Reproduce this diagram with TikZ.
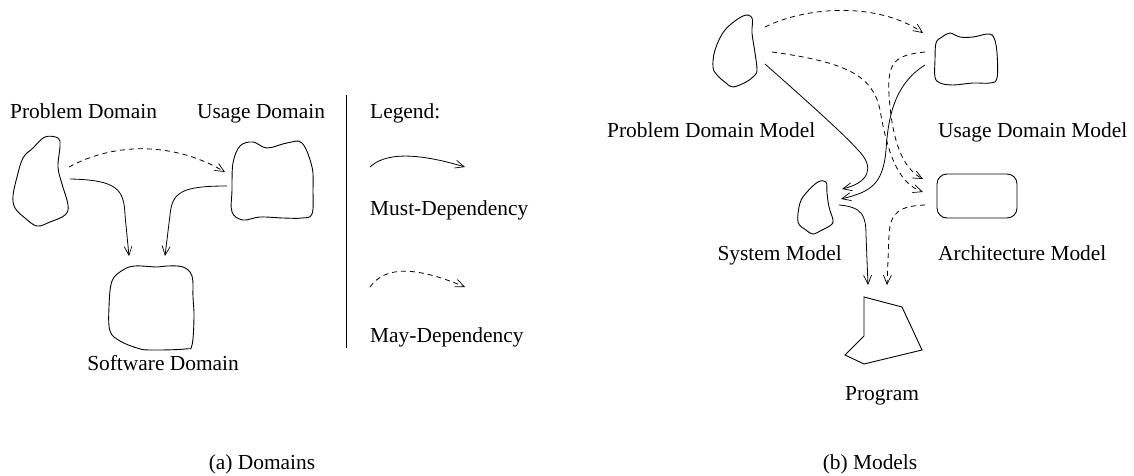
\documentclass[tikz,border=0pt]{standalone}
\usepackage{fontspec}
\setmainfont{Liberation Serif}
\usetikzlibrary{arrows.meta}
\tikzset{
  lbl/.style={inner sep=0pt, font=\fontsize{21.4}{25}\selectfont},
  outline/.style={line width=0.9pt},
  must/.style={line width=0.8pt, -{Straight Barb[length=9pt,width=8pt,line width=0.7pt]}},
  may/.style={must, dash pattern=on 5pt off 4pt},
}
\begin{document}
\begin{tikzpicture}[x=1pt,y=-1pt]
\useasboundingbox (0,0) rectangle (1134,476);

% ---------------- (a) Domains ----------------
\node[lbl, anchor=base west] (pdlbl) at (10,118) {Problem Domain};
\node[lbl, anchor=base west] (udlbl) at (197,118) {Usage Domain};
\node[lbl, anchor=base east] (sdlbl) at (239,370) {Software Domain};

% domain outlines
\draw[outline] plot[smooth cycle, tension=0.6] coordinates {
  (45,137) (58,138) (60,146) (58,167) (62,184) (68,205) (65,215) (50,222)
  (37,226) (25,218) (15,208) (13,196) (17,177) (23,158) (33,148)};
\draw[outline] plot[smooth cycle, tension=0.6] coordinates {
  (240,146) (253,142) (267,148) (287,143) (302,143) (312,167) (313,190)
  (312,214) (302,218) (283,218) (260,217) (243,220) (232,212) (232,190) (233,163)};
\draw[outline] plot[smooth cycle, tension=0.6] coordinates {
  (112,281) (123,270) (135,266) (157,267) (167,266) (183,267) (192,276)
  (193,297) (194,317) (192,345) (185,349) (150,350) (137,348) (120,341)
  (110,331) (109,307)};

\coordinate (pdA) at (69,167);
\coordinate (pdB) at (70,179);
\coordinate (udA) at (225,172);
\coordinate (udB) at (227,186);
\coordinate (sdA) at (129,256);
\coordinate (sdB) at (165,256);

\draw[may]  (pdA) .. controls (115,142) and (174,142) .. (udA);
\draw[must] (pdB) .. controls (118,180) and (124,190) .. (125,215) -- (sdA);
\draw[must] (udB) .. controls (182,186) and (172,192) .. (170,215) -- (sdB);

% separator
\coordinate (sepT) at (346,95);
\coordinate (sepB) at (346,348);
\draw[line width=0.9pt] (sepT) -- (sepB);

% legend
\node[lbl, anchor=base west] (leg) at (370,119) {Legend:};
\coordinate (lmA) at (370,167);
\coordinate (lmB) at (465,167);
\draw[must] (lmA) .. controls (385,153) and (415,152) .. (lmB);
\node[lbl, anchor=base west] (lmust) at (370,215) {Must-Dependency};
\coordinate (lyA) at (370,287);
\coordinate (lyB) at (465,287);
\draw[may] (lyA) .. controls (385,266) and (415,266) .. (lyB);
\node[lbl, anchor=base west] (lmay) at (370,342) {May-Dependency};

\node[lbl, anchor=base] (capa) at (262,469) {(a) Domains};

% ---------------- (b) Models ----------------
\node[lbl, anchor=base west] (pdmlbl) at (607,137) {Problem Domain Model};
\node[lbl, anchor=base west] (udmlbl) at (938,137) {Usage Domain Model};
\node[lbl, anchor=base east] (smlbl) at (842,260) {System Model};
\node[lbl, anchor=base west] (amlbl) at (938,260) {Architecture Model};
\node[lbl, anchor=base west] (prlbl) at (845,400) {Program};

% model outlines
\draw[outline] plot[smooth cycle, tension=0.6] coordinates {
  (713,67) (715,50) (725,30) (743,16) (752,18) (752,33) (755,53) (757,70)
  (754,76) (746,82) (733,87) (726,83) (717,75)};
\draw[outline] plot[smooth cycle, tension=0.6] coordinates {
  (798,222) (800,203) (807,192) (818,182) (826,182) (827,193) (829,207)
  (833,220) (831,225) (822,230) (813,234) (806,230)};
\draw[outline] plot[smooth cycle, tension=0.6] coordinates {
  (936,43) (942,37) (950,33) (960,37) (973,37) (988,34) (994,38) (997,53)
  (997,78) (990,83) (973,83) (953,85) (940,83) (935,77) (935,60)};
\draw[outline, rounded corners=10pt] (937,174) rectangle (1017,218);
\draw[outline] (864,297) -- (902,307) -- (922,350) -- (864,364) -- (845,355)
  -- (864,336) -- cycle;

\coordinate (pdmA) at (765,27);
\coordinate (pdmB) at (772,52);
\coordinate (pdmC) at (765,64);
\coordinate (udmA) at (923,33);
\coordinate (udmB) at (925,52);
\coordinate (udmC) at (925,65);
\coordinate (amA) at (923,179);
\coordinate (amB) at (923,192);
\coordinate (amC) at (925,205);
\coordinate (smA) at (842,189);
\coordinate (smB) at (841,199);
\coordinate (smC) at (839,205);
\coordinate (prA) at (868,285);
\coordinate (prB) at (887,285);

\draw[may]  (pdmA) .. controls (810,5) and (880,3) .. (udmA);
\draw[may]  (pdmB) .. controls (845,62) and (873,75) .. (880,110)
                   .. controls (887,150) and (897,183) .. (amB);
\draw[may]  (udmB) .. controls (895,55) and (887,62) .. (889,95)
                   .. controls (892,140) and (902,168) .. (amA);
\draw[must] (pdmC) .. controls (800,95) and (845,135) .. (858,150)
                   .. controls (876,168) and (868,183) .. (smA);
\draw[must] (udmC) .. controls (893,85) and (888,120) .. (886,150)
                   .. controls (883,185) and (870,192) .. (smB);
\draw[must] (smC) .. controls (862,207) and (866,215) .. (866,235) -- (prA);
\draw[may]  (amC) .. controls (900,206) and (890,212) .. (889,235) -- (prB);

\node[lbl, anchor=base] (capb) at (870,469) {(b) Models};
\end{tikzpicture}
\end{document}
